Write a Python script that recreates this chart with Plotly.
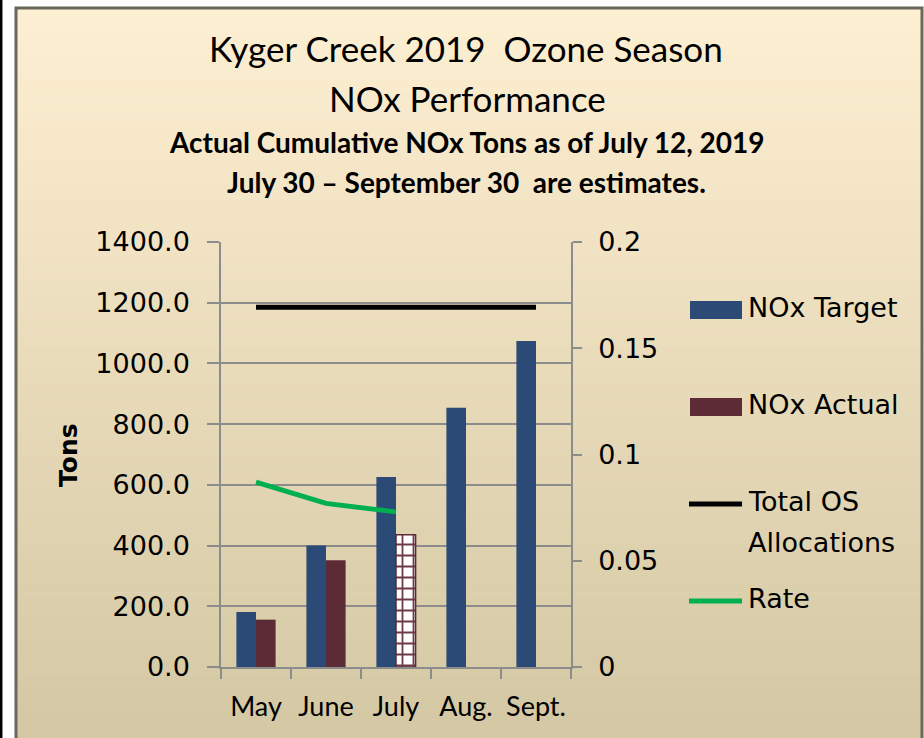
import plotly.graph_objects as go

# ---------------- data ----------------
months = ["May", "June", "July", "Aug.", "Sept."]
nox_target = [181, 400, 626, 854, 1074]
nox_actual = [156, 352, 436, None, None]
actual_pattern = ["", "", "+", "", ""]
total_os = [1185, 1185, 1185, 1185, 1185]
rate = [0.087, 0.077, 0.073, None, None]
left_tickvals = [0, 200, 400, 600, 800, 1000, 1200, 1400]
right_tickvals = [0, 0.05, 0.1, 0.15, 0.2]
right_ticktext = ["0", "0.05", "0.1", "0.15", "0.2"]

title_lines = ["Kyger Creek 2019\u00a0 Ozone Season", "NOx Performance"]
sub_lines = ["Actual Cumulative NOx Tons as of July 12, 2019",
             "July 30 \u2013 September 30\u00a0 are estimates."]

NAVY = "#2B4A76"
MAROON = "#5C2B36"
GREEN = "#00B050"
GRID = "#8C8C8C"

W, H = 924, 738
ML, MR, MT, MB = 221, 353, 242, 71
PW, PH = W - ML - MR, H - MT - MB


def px(x):
    return (x - ML) / PW


def py(y):
    return (H - MB - y) / PH


fig = go.Figure()
fig.add_trace(go.Bar(x=months, y=nox_target, name="NOx Target",
                     marker=dict(color=NAVY, line=dict(width=0))))
fig.add_trace(go.Bar(x=months, y=nox_actual, name="NOx Actual",
                     marker=dict(color=MAROON,
                                 line=dict(color=MAROON, width=[0, 0, 1.5, 0, 0]),
                                 pattern=dict(shape=actual_pattern, fgcolor="#6E3A46",
                                              bgcolor="white", size=11, solidity=0.3,
                                              fillmode="replace"))))
fig.add_trace(go.Scatter(x=months, y=total_os, name="Total OS Allocations",
                         mode="lines", line=dict(color="black", width=5)))
fig.add_trace(go.Scatter(x=months, y=rate, name="Rate", yaxis="y2",
                         mode="lines", line=dict(color=GREEN, width=5)))

shapes = []
# background gradient panel
N = 80
top, bot = 9, 738
c0 = (253, 239, 209)
c1 = (212, 199, 163)
for i in range(N):
    t = i / (N - 1)
    col = "rgb(%d,%d,%d)" % tuple(round(a + (b - a) * t) for a, b in zip(c0, c1))
    y0 = top + (bot - top) * i / N
    y1 = top + (bot - top) * (i + 1) / N + 0.6
    shapes.append(dict(type="rect", xref="paper", yref="paper", layer="below",
                       x0=px(17), x1=px(921), y0=py(y0), y1=py(y1),
                       fillcolor=col, line=dict(width=0)))
# frame
shapes.append(dict(type="rect", xref="paper", yref="paper", layer="below",
                   x0=px(16), x1=px(922), y0=py(8), y1=py(745),
                   fillcolor="rgba(0,0,0,0)", line=dict(color="#6B675C", width=3)))
shapes.append(dict(type="line", xref="paper", yref="paper", layer="below",
                   x0=px(1.2), x1=px(1.2), y0=py(-5), y1=py(745),
                   line=dict(color="black", width=2.5)))
# legend symbols
shapes.append(dict(type="rect", xref="paper", yref="paper",
                   x0=px(690), x1=px(742), y0=py(301), y1=py(319),
                   fillcolor=NAVY, line=dict(width=0)))
shapes.append(dict(type="rect", xref="paper", yref="paper",
                   x0=px(690), x1=px(742), y0=py(398), y1=py(416),
                   fillcolor=MAROON, line=dict(width=0)))
shapes.append(dict(type="line", xref="paper", yref="paper",
                   x0=px(689), x1=px(742), y0=py(504), y1=py(504),
                   line=dict(color="black", width=5)))
shapes.append(dict(type="line", xref="paper", yref="paper",
                   x0=px(689), x1=px(742), y0=py(601), y1=py(601),
                   line=dict(color=GREEN, width=5)))

TFONT = "Lato, Liberation Sans, sans-serif"
LFONT = "DejaVu Sans, Verdana, sans-serif"
ann = []
ann.append(dict(text=title_lines[0], x=px(466), y=py(48), font=dict(size=35, family=TFONT, color="black")))
ann.append(dict(text=title_lines[1], x=px(467), y=py(98), font=dict(size=35, family=TFONT, color="black")))
ann.append(dict(text="<b>" + sub_lines[0] + "</b>", x=px(467), y=py(142), font=dict(size=28, family=TFONT, color="black")))
ann.append(dict(text="<b>" + sub_lines[1] + "</b>", x=px(466), y=py(182), font=dict(size=28, family=TFONT, color="black")))
ann.append(dict(text="<b>Tons</b>", x=px(68), y=py(455), textangle=-90,
                font=dict(size=25, family=LFONT, color="black")))
for txt, yy in [("NOx Target", 307), ("NOx Actual", 404), ("Total OS", 501),
                ("Allocations", 542), ("Rate", 598)]:
    ann.append(dict(text=txt, x=px(746), y=py(yy), xanchor="left",
                    font=dict(size=27, family=LFONT, color="black")))
for a in ann:
    a.setdefault("xanchor", "center")
    a.update(xref="paper", yref="paper", yanchor="middle", showarrow=False)

fig.update_layout(
    width=W, height=H,
    margin=dict(l=ML, r=MR, t=MT, b=MB, autoexpand=False),
    paper_bgcolor="white",
    plot_bgcolor="rgba(0,0,0,0)",
    showlegend=False,
    barmode="group", bargap=0.44, bargroupgap=0,
    shapes=shapes, annotations=ann,
    xaxis=dict(type="category", tickson="boundaries", ticks="outside", ticklen=10,
               tickcolor=GRID, tickwidth=1.5, showline=True, linecolor=GRID,
               linewidth=1.5, showgrid=False, ticklabelstandoff=15, tickangle=0,
               automargin=False,
               tickfont=dict(size=27, family=TFONT, color="black")),
    yaxis=dict(range=[0, 1400], tickvals=left_tickvals, tickformat=".1f",
               ticks="outside", ticklen=12, tickcolor=GRID, tickwidth=1.5,
               showline=True, linecolor=GRID, linewidth=1.5, automargin=False,
               showgrid=True, gridcolor=GRID, gridwidth=1.5, zeroline=False,
               ticklabelstandoff=12,
               tickfont=dict(size=27, family=LFONT, color="black")),
    yaxis2=dict(range=[0, 0.2], overlaying="y", side="right",
                tickvals=right_tickvals, ticktext=right_ticktext,
                ticks="outside", ticklen=9, tickcolor=GRID, tickwidth=1.5,
                showline=True, linecolor=GRID, linewidth=1.5, showgrid=False,
                zeroline=False, ticklabelstandoff=11, automargin=False,
                tickfont=dict(size=27, family=LFONT, color="black")),
)

fig.write_html("out.html", config={"displayModeBar": False},
               post_script="document.body.style.margin='0';")
